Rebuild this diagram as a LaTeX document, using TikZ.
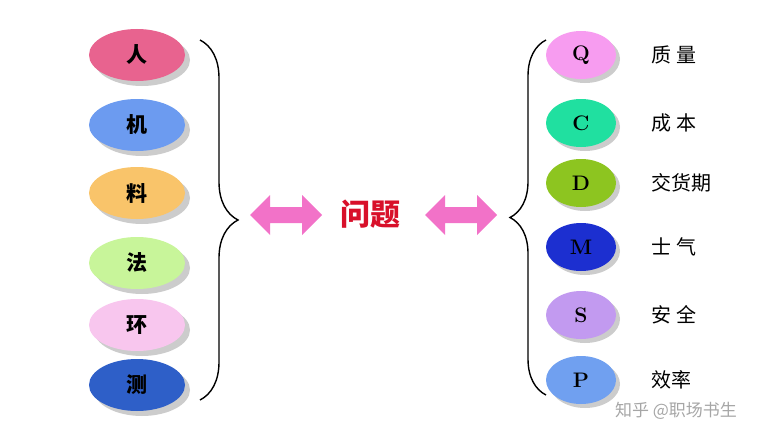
\documentclass[tikz,border=0pt]{standalone}
\usepackage{fontspec}
\newfontfamily\cjk{Noto Sans CJK SC}
\usetikzlibrary{decorations.pathreplacing}
\usetikzlibrary{shapes.geometric}
\definecolor{cren}{HTML}{E8638F}
\definecolor{cji}{HTML}{6C9BF0}
\definecolor{cliao}{HTML}{F9C46A}
\definecolor{cfa}{HTML}{C8F59A}
\definecolor{chuan}{HTML}{F8C6EE}
\definecolor{cce}{HTML}{2E5FC8}
\definecolor{cq}{HTML}{F79CF0}
\definecolor{cc}{HTML}{20E0A0}
\definecolor{cd}{HTML}{8DC520}
\definecolor{cm}{HTML}{1C2FD0}
\definecolor{cs}{HTML}{C29AF0}
\definecolor{cp}{HTML}{70A0F0}
\definecolor{carrow}{HTML}{F272C8}
\definecolor{cred}{HTML}{D8102A}
\tikzset{
  factor/.style={ellipse, minimum width=96pt, minimum height=52pt, inner sep=0pt,
    font=\cjk\bfseries\fontsize{21}{21}\selectfont},
  goal/.style={ellipse, minimum width=70pt, minimum height=48pt, inner sep=0pt,
    font=\bfseries\fontsize{21}{21}\selectfont},
  goaltext/.style={anchor=west, font=\cjk\fontsize{20}{20}\selectfont},
  shade/.style={fill=gray!40},
}
\begin{document}
\begin{tikzpicture}[x=1pt, y=-1pt]
  \useasboundingbox (0,0) rectangle (778,444);
  % left factors
  \foreach \t/\c/\y [count=\i] in {人/cren/55, 机/cji/125, 料/cliao/193, 法/cfa/263, 环/chuan/325, 测/cce/385} {
    \node[factor, shade] at (142,\y+5) {};
    \node[factor, fill=\c] (f\i) at (137,\y) {\t};
  }
  % right goals
  \foreach \t/\c/\y/\l [count=\i] in {Q/cq/55/质 量, C/cc/123/成 本, D/cd/183/交货期, M/cm/247/士 气, S/cs/315/安 全, P/cp/380/效率} {
    \node[goal, shade] at (585,\y+4) {};
    \node[goal, fill=\c] (g\i) at (581,\y) {\t};
    \node[goaltext] (l\i) at (648,\y) {\l};
  }
  % braces
  \draw [line width=1.4pt, decoration={brace, amplitude=38pt}, decorate] (200,40) -- (200,400);
  \draw [line width=1.4pt, decoration={brace, amplitude=36pt}, decorate] (546,395) -- (546,40);
  % arrows
  \foreach \x in {250, 425}
    \fill [carrow] (\x,215) -- ++(20,-20) -- ++(0,12) -- ++(32,0) -- ++(0,-12) -- ++(20,20)
      -- ++(-20,20) -- ++(0,-12) -- ++(-32,0) -- ++(0,12) -- cycle;
  \node[text=cred, font=\cjk\bfseries\fontsize{30}{30}\selectfont] (issue) at (370,214) {问题};
  \node[text=gray!70, font=\cjk\fontsize{17}{17}\selectfont] (mark) at (676,411) {知乎 @职场书生};
\end{tikzpicture}
\end{document}
